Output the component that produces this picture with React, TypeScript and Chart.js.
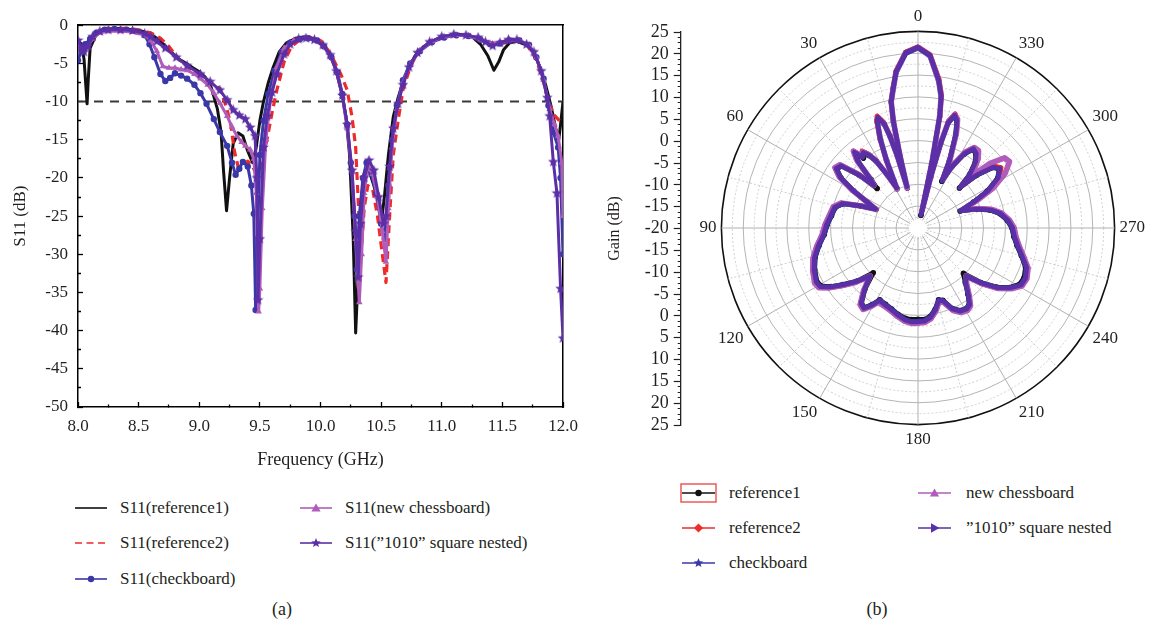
import React, { useEffect, useRef } from 'react';
import { Chart, registerables } from 'chart.js';

Chart.register(...registerables);

const FONT = "'Liberation Serif', 'Times New Roman', serif";
const TEXT = '#231f20';
const PURPLE = '#5b2fa6';
const BLUE = '#3a38a8';
const MAGENTA = '#b05cbb';
const RED = '#ee2a2a';
const BLACK = '#111111';

// ---------------- (a) S11 vs frequency ----------------
const freqRange = [8, 12];
const s11Range = [-50, 0];
const thresholdFreq = [8, 12];
const thresholdS11 = [-10, -10];

const ref1Freq = [8.00, 8.03, 8.05, 8.065, 8.075, 8.085, 8.10, 8.15, 8.20, 8.30, 8.40, 8.50, 8.55, 8.60, 8.65, 8.70, 8.75, 8.80, 8.85, 8.90, 8.95, 9.00, 9.05, 9.10, 9.15, 9.18, 9.20, 9.225, 9.25, 9.28, 9.32, 9.36, 9.40, 9.44, 9.47, 9.50, 9.53, 9.57, 9.61, 9.66, 9.72, 9.80, 9.87, 9.95, 10.02, 10.08, 10.13, 10.17, 10.21, 10.24, 10.27, 10.29, 10.31, 10.33, 10.36, 10.40, 10.44, 10.48, 10.51, 10.53, 10.56, 10.60, 10.64, 10.68, 10.72, 10.78, 10.85, 10.95, 11.05, 11.15, 11.25, 11.32, 11.38, 11.43, 11.47, 11.51, 11.56, 11.62, 11.70, 11.76, 11.81, 11.86, 11.90, 11.94, 11.965, 11.98, 12.00];
const ref1S11 = [-2.0, -2.5, -4.5, -8.0, -10.3, -7.0, -3.0, -1.2, -0.6, -0.4, -0.5, -0.7, -0.9, -1.2, -1.7, -2.4, -3.2, -4.0, -4.6, -5.1, -5.6, -6.1, -6.8, -8.2, -11.0, -14.0, -19.0, -24.3, -20.0, -15.5, -14.1, -14.5, -16.5, -18.0, -16.0, -12.5, -10.0, -7.5, -5.5, -3.5, -2.3, -1.7, -1.5, -1.8, -2.6, -3.8, -6.0, -8.5, -12.0, -17.0, -28.0, -40.3, -33.0, -24.0, -19.5, -19.0, -21.0, -23.5, -24.8, -22.0, -17.0, -12.0, -9.5, -7.5, -5.8, -4.0, -2.8, -1.9, -1.4, -1.2, -1.5, -2.5, -4.0, -5.9, -4.8, -3.2, -2.3, -2.1, -2.6, -3.6, -5.5, -8.0, -10.5, -13.5, -15.0, -13.0, -10.0];

const ref2Freq = [8.00, 8.05, 8.10, 8.15, 8.20, 8.30, 8.40, 8.50, 8.60, 8.68, 8.75, 8.84, 8.92, 9.00, 9.08, 9.17, 9.22, 9.26, 9.29, 9.32, 9.36, 9.40, 9.44, 9.47, 9.50, 9.53, 9.56, 9.60, 9.64, 9.70, 9.76, 9.84, 9.92, 10.00, 10.06, 10.11, 10.17, 10.22, 10.26, 10.29, 10.32, 10.34, 10.36, 10.39, 10.43, 10.47, 10.51, 10.54, 10.57, 10.60, 10.64, 10.68, 10.74, 10.80, 10.90, 11.00, 11.10, 11.20, 11.30, 11.40, 11.50, 11.60, 11.70, 11.78, 11.84, 11.88, 11.93, 11.97, 12.00];
const ref2S11 = [-2.5, -3.0, -2.0, -1.0, -0.6, -0.4, -0.4, -0.6, -1.0, -1.7, -2.8, -4.6, -5.6, -6.4, -7.4, -8.3, -10.5, -13.0, -16.5, -18.5, -18.5, -17.8, -18.5, -19.5, -19.0, -17.0, -14.9, -11.5, -8.5, -4.8, -2.8, -1.8, -1.6, -2.0, -3.2, -4.6, -6.5, -8.5, -12.0, -16.0, -26.0, -29.0, -24.0, -21.0, -21.5, -25.0, -30.0, -33.7, -25.0, -17.0, -12.5, -8.5, -5.5, -3.6, -2.2, -1.6, -1.2, -1.3, -1.7, -2.3, -2.4, -2.0, -2.5, -4.5, -7.5, -10.0, -11.8, -12.5, -13.0];

const checkFreq = [8.00, 8.03, 8.06, 8.10, 8.15, 8.22, 8.30, 8.40, 8.50, 8.55, 8.59, 8.63, 8.68, 8.72, 8.76, 8.80, 8.85, 8.90, 8.96, 9.01, 9.06, 9.12, 9.17, 9.23, 9.27, 9.30, 9.33, 9.36, 9.40, 9.43, 9.45, 9.465, 9.48, 9.50, 9.53, 9.57, 9.62, 9.68, 9.75, 9.83, 9.90, 9.97, 10.03, 10.09, 10.14, 10.18, 10.22, 10.25, 10.28, 10.30, 10.32, 10.35, 10.38, 10.42, 10.46, 10.50, 10.53, 10.56, 10.59, 10.63, 10.68, 10.74, 10.82, 10.92, 11.02, 11.12, 11.22, 11.32, 11.40, 11.48, 11.56, 11.64, 11.72, 11.78, 11.84, 11.88, 11.92, 11.96, 11.98, 12.00];
const checkS11 = [-4.6, -3.2, -2.5, -1.8, -1.0, -0.6, -0.5, -0.6, -0.9, -1.3, -2.5, -4.2, -6.4, -7.3, -6.9, -6.3, -6.6, -7.0, -7.8, -8.9, -10.3, -12.3, -14.0, -15.8, -18.0, -19.6, -18.8, -17.9, -18.5, -21.0, -24.7, -37.3, -28.0, -17.0, -12.5, -9.0, -6.0, -3.5, -2.3, -1.8, -1.7, -2.0, -2.8, -4.2, -6.2, -9.0, -13.0, -18.0, -25.0, -32.0, -25.0, -20.0, -18.0, -19.5, -22.0, -26.0, -28.0, -21.0, -15.0, -10.5, -7.2, -5.0, -3.4, -2.2, -1.6, -1.3, -1.4, -1.9, -2.5, -2.4, -2.0, -2.0, -2.6, -4.2, -7.0, -10.5, -14.0, -16.0, -20.0, -30.0];

const chessFreq = [8.00, 8.04, 8.08, 8.12, 8.18, 8.25, 8.35, 8.45, 8.55, 8.60, 8.65, 8.70, 8.75, 8.80, 8.85, 8.90, 8.96, 9.01, 9.07, 9.12, 9.17, 9.23, 9.27, 9.31, 9.35, 9.38, 9.42, 9.45, 9.47, 9.49, 9.50, 9.52, 9.55, 9.59, 9.64, 9.70, 9.78, 9.87, 9.95, 10.02, 10.08, 10.13, 10.18, 10.22, 10.26, 10.29, 10.32, 10.34, 10.36, 10.39, 10.43, 10.47, 10.51, 10.54, 10.56, 10.59, 10.63, 10.68, 10.74, 10.82, 10.92, 11.02, 11.12, 11.22, 11.32, 11.40, 11.48, 11.56, 11.64, 11.72, 11.78, 11.84, 11.89, 11.93, 11.96, 11.99, 12.00];
const chessS11 = [-2.8, -3.2, -2.8, -1.8, -1.0, -0.8, -0.8, -0.9, -1.3, -2.0, -3.4, -5.4, -5.6, -5.6, -5.8, -5.9, -6.4, -7.0, -7.8, -8.9, -10.2, -11.9, -13.3, -14.5, -15.3, -15.8, -16.3, -17.5, -22.0, -37.5, -34.5, -24.0, -15.0, -9.5, -5.5, -3.0, -2.0, -1.7, -1.9, -2.7, -4.0, -6.0, -9.3, -13.5, -19.0, -28.0, -36.3, -30.0, -22.0, -18.5, -19.5, -22.5, -27.0, -31.0, -24.0, -16.0, -11.0, -7.5, -5.2, -3.3, -2.1, -1.5, -1.3, -1.4, -1.9, -2.4, -2.3, -1.9, -2.0, -2.6, -4.2, -7.2, -11.0, -13.0, -14.5, -18.0, -25.0];

const nestFreq = [8.00, 8.03, 8.05, 8.08, 8.12, 8.18, 8.25, 8.35, 8.45, 8.55, 8.60, 8.65, 8.72, 8.81, 8.90, 9.01, 9.09, 9.17, 9.23, 9.28, 9.33, 9.38, 9.42, 9.46, 9.475, 9.485, 9.50, 9.53, 9.56, 9.60, 9.64, 9.70, 9.75, 9.82, 9.88, 9.95, 10.02, 10.08, 10.13, 10.18, 10.22, 10.26, 10.29, 10.31, 10.33, 10.36, 10.40, 10.44, 10.48, 10.52, 10.54, 10.57, 10.60, 10.64, 10.68, 10.73, 10.80, 10.90, 11.00, 11.10, 11.20, 11.30, 11.36, 11.42, 11.48, 11.55, 11.62, 11.70, 11.76, 11.82, 11.87, 11.89, 11.92, 11.95, 11.98, 12.00];
const nestS11 = [-2.0, -3.0, -3.5, -2.8, -1.5, -0.8, -0.6, -0.6, -0.7, -1.1, -1.5, -2.1, -3.0, -4.2, -5.3, -6.4, -7.4, -8.5, -9.8, -11.1, -11.8, -12.3, -13.4, -14.5, -20.0, -36.0, -28.0, -16.0, -11.9, -8.8, -6.4, -3.8, -2.5, -1.8, -1.7, -1.9, -2.6, -3.9, -6.0, -9.2, -13.0, -19.0, -27.0, -33.0, -26.0, -20.0, -17.7, -19.0, -22.5, -26.0, -25.0, -18.5, -13.5, -10.3, -7.8, -5.5, -3.6, -2.2, -1.5, -1.2, -1.3, -1.6, -2.2, -2.7, -2.3, -1.9, -1.9, -2.5, -3.5, -6.0, -9.5, -11.9, -17.9, -22.0, -34.5, -41.0];

// ---------------- (b) gain pattern ----------------
const gainRange = [-20, 25];
const gainAxisLabels = [25, 20, 15, 10, 5, 0, -5, -10, -15, -20, -15, -10, -5, 0, 5, 10, 15, 20, 25];
const polarAngles = [0, 4, 8, 10, 12, 13, 14, 15, 16, 17, 18, 20, 21, 23, 25, 27, 28, 30, 32, 34, 36, 38, 40, 42, 44, 46, 48, 51, 54, 57, 60, 63, 66, 69, 72, 76, 82, 88, 94, 100, 106, 112, 118, 121, 124, 127, 131, 135, 139, 143, 146, 149, 152, 157, 162, 167, 172, 176, 180, 184, 188, 192, 196, 199, 203, 207, 211, 214, 217, 221, 225, 229, 233, 237, 241, 245, 250, 255, 260, 265, 270, 275, 280, 284, 288, 292, 295, 298, 302, 306, 309, 312, 314, 316, 319, 322, 325, 328, 331, 333, 335, 338, 340, 342, 344, 345, 346, 347, 348, 349, 350, 352, 356];
const ref1Gain = [21.3, 20.2, 16, 12.5, 9.5, 5, -3, -10.5, -3, 2, 5, 6.8, 6, 2, -3, -8, -9.8, -6, -2, 0, 1.2, 0.3, 2.5, 0.5, -4.5, -7, -2, 2.5, 3, 1, -3, -7, -9.5, -6, -2, -0.5, 0, 0.8, 1.5, 3, 4.5, 5.5, 6.2, 5.8, 4, 1.5, -1.5, -5.5, -1.5, 1.5, 2, 0.5, -1.4, -1, -0.5, 0.3, 0.9, 1.0, 0.9, 1.0, 0.4, -1, -2.9, -2.5, 0, 1.2, 1.5, 1, -1, -3.5, -5.3, -1, 2.5, 5, 6.6, 6.8, 6.2, 4.5, 3, 2, 1.5, 0.5, -1, -3, -6, -9.6, -6, -2, 1.5, 3, 2, -2, -6.8, -3, 0, 1.5, 2, 0, -4, -8, -3, 3, 6, 7, 5, 0, -8, -17, -5, 6, 10.5, 14, 19.5];
const ref2Gain = [21.5, 20.4, 16.3, 12.8, 9.8, 5.5, -2.5, -10, -2.5, 2.5, 5.5, 7.3, 6.5, 2.5, -2.5, -7.5, -9.5, -5.5, -1.5, 0.5, 1.8, 0.8, 3, 1, -3.5, -6, -1.5, 3, 3.5, 1.5, -2.5, -6.5, -9, -5.5, -1.5, 0, 0.5, 1.3, 2, 3.5, 5, 6, 6.6, 6.2, 4.5, 2, -1, -4.5, -1, 2, 2.4, 1, -1, -0.6, 0, 0.8, 1.4, 1.6, 1.5, 1.5, 1, -0.5, -2.4, -2, 0.5, 1.6, 2, 1.5, -0.5, -3, -4.5, -0.5, 3, 5.5, 7.2, 7.4, 6.8, 5, 3.5, 2.5, 2, 1, -0.5, -2.5, -5.5, -9.2, -5.5, -1.5, 2, 3.5, 2.5, -1.5, -6.3, -2.5, 0.5, 2, 2.5, 0.5, -3.5, -7.5, -2.5, 3.5, 6.5, 7.5, 5.5, 0.5, -7.5, -16, -4.5, 6.5, 11, 14.5, 19.8];
const checkGain = [21.2, 20, 16, 12.5, 9.5, 5, -3, -10, -3, 2, 5, 6.8, 6, 2, -3, -8, -9.5, -6, -2, 0, 1.2, 0.5, 2.5, 0.5, -4, -6, -2, 2.5, 3, 1, -3, -7, -9.3, -6, -2, -0.5, 0, 0.8, 1.5, 3, 4.5, 5.5, 6.3, 6, 4, 1.5, -1.5, -4.5, -1.5, 1.5, 2, 0.5, -1.4, -1, -0.5, 0.3, 1.1, 1.4, 1.3, 1.2, 0.5, -1, -2.9, -2.5, 0, 1.2, 1.5, 1, -1, -3.5, -4.5, -1, 2.5, 5, 6.8, 7, 6.3, 4.5, 3, 2, 1.5, 0.5, -1, -3, -6, -9.6, -6, -2, 1.5, 3, 2, -2, -6.8, -3, 0, 1.5, 2, 0, -4, -8, -3, 3, 6, 7, 5, 0, -8, -17, -5, 6, 10.5, 14, 19.5];
const chessGain = [21.3, 20.2, 16, 12.5, 9.5, 5, -3, -10.5, -3, 2, 5, 6.8, 6, 2, -3, -8, -9.8, -6, -2, 0.3, 1.5, 0.8, 3, 1, -4, -6, -1.5, 3, 3.5, 1.5, -2.5, -7, -9.5, -6, -1.5, 0, 0.5, 1.3, 2, 3.5, 5, 6, 6.8, 6.5, 4.5, 2, -1, -4.5, -1, 2, 2.5, 1, -0.8, -0.5, 0, 0.8, 1.6, 1.9, 1.8, 1.7, 1, -0.5, -2.5, -2, 0.5, 1.7, 2, 1.5, -0.5, -3, -4.5, -0.5, 3, 5.5, 7.3, 7.5, 6.8, 5, 3.5, 2.5, 2, 1, -0.5, -2.5, -5.5, -9.3, -5, -0.5, 3.5, 5.9, 5.5, 2, -3, -1.5, 1, 2.5, 2.5, 0.5, -3.5, -7.5, -2.5, 3.5, 6.5, 7.2, 5.3, 0.3, -7.5, -16, -4.5, 6, 10.5, 14, 19.5];
const nestGain = [21.4, 20.3, 16.2, 12.7, 9.6, 5.2, -2.8, -10.2, -2.8, 2.2, 5.2, 7, 6.2, 2.2, -2.8, -7.8, -9.6, -5.8, -1.8, 0.2, 1.4, 0.6, 2.7, 0.7, -4, -6, -1.8, 2.7, 3.2, 1.2, -2.8, -6.8, -9.4, -5.8, -1.8, -0.3, 0.2, 1, 1.7, 3.2, 4.7, 5.7, 6.4, 6.1, 4.2, 1.7, -1.3, -4.5, -1.3, 1.7, 2.2, 0.7, -1.2, -0.8, -0.3, 0.5, 1.3, 1.6, 1.5, 1.4, 0.7, -0.8, -2.7, -2.3, 0.2, 1.4, 1.7, 1.2, -0.8, -3.3, -4.5, -0.8, 2.7, 5.2, 7, 7.2, 6.5, 4.7, 3.2, 2.2, 1.7, 0.7, -0.8, -2.8, -5.8, -9.4, -5.8, -1.8, 1.7, 3.2, 2.2, -1.8, -6.6, -2.8, 0.2, 1.7, 2.2, 0.2, -3.8, -7.8, -2.8, 3.2, 6.2, 7.2, 5.2, 0.2, -7.8, -16.8, -4.8, 6.2, 10.7, 14.2, 19.7];

// ---------------- helpers ----------------
function pts(xs: number[], ys: number[]) {
  return xs.map((x, i) => ({ x, y: ys[i] }));
}
function onGrid(v: number, step: number) {
  return Math.abs(v / step - Math.round(v / step)) < 1e-6;
}
function toRadar(angles: number[], gains: number[]) {
  const out: (number | null)[] = new Array(360).fill(null);
  angles.forEach((a, k) => {
    out[(360 - a) % 360] = gains[k];
  });
  return out;
}
function starPath(cx: number, cy: number, R: number, r: number) {
  const p: string[] = [];
  for (let k = 0; k < 10; k++) {
    const a = -Math.PI / 2 + (k * Math.PI) / 5;
    const rad = k % 2 === 0 ? R : r;
    p.push(`${(cx + rad * Math.cos(a)).toFixed(2)},${(cy + rad * Math.sin(a)).toFixed(2)}`);
  }
  return p.join(' ');
}
function makeStar(color: string, size: number) {
  const c = document.createElement('canvas');
  c.width = size;
  c.height = size;
  const g = c.getContext('2d')!;
  g.fillStyle = color;
  g.beginPath();
  const R = size / 2;
  for (let k = 0; k < 10; k++) {
    const a = -Math.PI / 2 + (k * Math.PI) / 5;
    const rad = k % 2 === 0 ? R : R * 0.45;
    g.lineTo(R + rad * Math.cos(a), R + rad * Math.sin(a));
  }
  g.closePath();
  g.fill();
  return c;
}

const tickFont = { family: FONT, size: 17 };

const centerHole = {
  id: 'centerHole',
  beforeDatasetsDraw(chart: any) {
    const s = chart.scales.r;
    const ctx = chart.ctx;
    ctx.save();
    ctx.fillStyle = '#ffffff';
    ctx.beginPath();
    ctx.arc(s.xCenter, s.yCenter, 9, 0, Math.PI * 2);
    ctx.fill();
    ctx.restore();
  },
};

// ---------------- legend ----------------
type MarkerKind = 'none' | 'circle' | 'triangle' | 'rtriangle' | 'diamond' | 'star';
interface LegendEntry {
  label: string;
  color: string;
  dashed?: boolean;
  marker: MarkerKind;
  boxed?: boolean;
}

const legendA: LegendEntry[][] = [
  [
    { label: 'S11(reference1)', color: BLACK, marker: 'none' },
    { label: 'S11(reference2)', color: RED, dashed: true, marker: 'none' },
    { label: 'S11(checkboard)', color: BLUE, marker: 'circle' },
  ],
  [
    { label: 'S11(new chessboard)', color: MAGENTA, marker: 'triangle' },
    { label: 'S11(\u201d1010\u201d square nested)', color: PURPLE, marker: 'star' },
  ],
];
const legendB: LegendEntry[][] = [
  [
    { label: 'reference1', color: BLACK, marker: 'circle', boxed: true },
    { label: 'reference2', color: RED, marker: 'diamond' },
    { label: 'checkboard', color: BLUE, marker: 'star' },
  ],
  [
    { label: 'new chessboard', color: MAGENTA, marker: 'triangle' },
    { label: '\u201d1010\u201d square nested', color: PURPLE, marker: 'rtriangle' },
  ],
];

function MarkerSvg({ kind, cx, cy, color }: { kind: MarkerKind; cx: number; cy: number; color: string }) {
  if (kind === 'circle') return <circle cx={cx} cy={cy} r={3.2} fill={color} />;
  if (kind === 'triangle')
    return <polygon points={`${cx},${cy - 4.5} ${cx + 4.6},${cy + 3.5} ${cx - 4.6},${cy + 3.5}`} fill={color} />;
  if (kind === 'rtriangle')
    return <polygon points={`${cx + 5},${cy} ${cx - 3.5},${cy - 4.8} ${cx - 3.5},${cy + 4.8}`} fill={color} />;
  if (kind === 'diamond')
    return <polygon points={`${cx},${cy - 4.6} ${cx + 4.6},${cy} ${cx},${cy + 4.6} ${cx - 4.6},${cy}`} fill={color} />;
  if (kind === 'star') return <polygon points={starPath(cx, cy, 5, 2.2)} fill={color} />;
  return null;
}

function Legend({
  columns,
  iconX,
  textX,
  rowY,
  iconW,
}: {
  columns: LegendEntry[][];
  iconX: number[];
  textX: number[];
  rowY: number[];
  iconW: number;
}) {
  const items: any[] = [];
  columns.forEach((col, c) => {
    col.forEach((e, r) => {
      const y = rowY[r];
      items.push(
        <svg
          key={`i${c}-${r}`}
          width={iconW + 4}
          height={22}
          style={{ position: 'absolute', left: iconX[c] - 2, top: y - 11, overflow: 'visible' }}
        >
          <line
            x1={2}
            y1={11}
            x2={iconW + 2}
            y2={11}
            stroke={e.color}
            strokeWidth={1.6}
            strokeDasharray={e.dashed ? '7 4.5' : undefined}
          />
          <MarkerSvg kind={e.marker} cx={iconW / 2 + 2} cy={11} color={e.color} />
          {e.boxed ? (
            <rect x={1} y={2} width={iconW + 2} height={18} fill="none" stroke="#e8504a" strokeWidth={1.4} />
          ) : null}
        </svg>
      );
      items.push(
        <div
          key={`t${c}-${r}`}
          style={{
            position: 'absolute',
            left: textX[c],
            top: y - 11,
            fontSize: 17,
            lineHeight: '22px',
            whiteSpace: 'nowrap',
            color: TEXT,
          }}
        >
          {e.label}
        </div>
      );
    });
  });
  return <>{items}</>;
}

export default function App() {
  const leftRef = useRef<HTMLCanvasElement>(null);
  const gainRef = useRef<HTMLCanvasElement>(null);
  const polarRef = useRef<HTMLCanvasElement>(null);

  useEffect(() => {
    const charts: any[] = [];
    const starSmall = makeStar(PURPLE, 11);

    // ---------- (a) ----------
    const lineCommon = { tension: 0, borderJoinStyle: 'round' as const, fill: false };
    charts.push(
      new Chart(leftRef.current!, {
        type: 'line',
        data: {
          datasets: [
            {
              ...lineCommon,
              label: 'S11("1010" square nested)',
              data: pts(nestFreq, nestS11),
              borderColor: PURPLE,
              backgroundColor: PURPLE,
              borderWidth: 3,
              pointStyle: starSmall as any,
              pointRadius: 4,
              order: 0,
            },
            {
              ...lineCommon,
              label: 'S11(new chessboard)',
              data: pts(chessFreq, chessS11),
              borderColor: MAGENTA,
              backgroundColor: MAGENTA,
              borderWidth: 3,
              pointStyle: 'triangle',
              pointRadius: 3.8,
              pointBorderWidth: 0,
              order: 1,
            },
            {
              ...lineCommon,
              label: 'S11(checkboard)',
              data: pts(checkFreq, checkS11),
              borderColor: BLUE,
              backgroundColor: BLUE,
              borderWidth: 3,
              pointStyle: 'circle',
              pointRadius: 3.2,
              pointBorderWidth: 0,
              order: 2,
            },
            {
              ...lineCommon,
              label: 'S11(reference2)',
              data: pts(ref2Freq, ref2S11),
              borderColor: RED,
              borderWidth: 3.2,
              borderDash: [8, 5],
              pointRadius: 0,
              order: 3,
            },
            {
              ...lineCommon,
              label: 'S11(reference1)',
              data: pts(ref1Freq, ref1S11),
              borderColor: BLACK,
              borderWidth: 3,
              pointRadius: 0,
              order: 4,
            },
            {
              ...lineCommon,
              label: 'threshold',
              data: pts(thresholdFreq, thresholdS11),
              borderColor: '#3a3a3a',
              borderWidth: 2,
              borderDash: [9, 7],
              pointRadius: 0,
              order: 5,
            },
          ],
        },
        options: {
          animation: false,
          responsive: false,
          events: [],
          layout: { padding: { top: 17, right: 37, left: 0, bottom: 0 } },
          plugins: { legend: { display: false }, tooltip: { enabled: false } },
          scales: {
            x: {
              type: 'linear',
              position: 'bottom',
              min: freqRange[0],
              max: freqRange[1],
              afterFit: (s: any) => {
                s.height = 75;
              },
              ticks: {
                stepSize: 0.25,
                autoSkip: false,
                maxRotation: 0,
                padding: 14,
                color: TEXT,
                font: tickFont,
                callback: (v: any) => (onGrid(Number(v), 0.5) ? Number(v).toFixed(1) : ''),
              },
              grid: {
                drawOnChartArea: false,
                tickLength: -5,
                tickColor: '#000',
                tickWidth: 1.3,
                tickBorderDash: (ctx: any) => (ctx.tick && onGrid(ctx.tick.value, 0.5) ? [] : [3, 100]),
              },
              border: { color: '#000', width: 1.5 },
              title: {
                display: true,
                text: 'Frequency (GHz)',
                color: TEXT,
                font: { family: FONT, size: 18 },
                padding: { top: 0, bottom: 11 },
              },
            },
            y: {
              type: 'linear',
              position: 'left',
              min: s11Range[0],
              max: s11Range[1],
              afterFit: (s: any) => {
                s.width = 78;
              },
              ticks: {
                stepSize: 2.5,
                autoSkip: false,
                padding: 15,
                color: TEXT,
                font: tickFont,
                callback: (v: any) => (onGrid(Number(v), 5) ? String(v) : ''),
              },
              grid: {
                drawOnChartArea: false,
                tickLength: -5,
                tickColor: '#000',
                tickWidth: 1.3,
                tickBorderDash: (ctx: any) => (ctx.tick && onGrid(ctx.tick.value, 5) ? [] : [0, 2, 3, 100]),
              },
              border: { color: '#000', width: 1.5 },
              title: {
                display: true,
                text: 'S11 (dB)',
                color: TEXT,
                font: { family: FONT, size: 17 },
                padding: { top: 10, bottom: 0 },
              },
            },
            x2: {
              type: 'linear',
              position: 'top',
              min: freqRange[0],
              max: freqRange[1],
              ticks: { display: false },
              grid: { display: false, drawTicks: false },
              border: { display: true, color: '#000', width: 1.5 },
            },
            y2: {
              type: 'linear',
              position: 'right',
              min: s11Range[0],
              max: s11Range[1],
              ticks: { display: false },
              grid: { display: false, drawTicks: false },
              border: { display: true, color: '#000', width: 1.5 },
            },
          },
        } as any,
      })
    );

    // ---------- (b) radial axis ----------
    charts.push(
      new Chart(gainRef.current!, {
        type: 'line',
        data: { datasets: [] },
        options: {
          animation: false,
          responsive: false,
          events: [],
          layout: { padding: { top: 32, bottom: 35, left: 0, right: 0 } },
          plugins: { legend: { display: false }, tooltip: { enabled: false } },
          scales: {
            x: { display: false },
            y: {
              type: 'linear',
              position: 'left',
              min: -45,
              max: 45,
              afterFit: (s: any) => {
                s.width = 80.7;
              },
              ticks: {
                stepSize: 1.25,
                autoSkip: false,
                padding: 5,
                color: TEXT,
                font: { family: FONT, size: 18 },
                callback: (v: any) =>
                  onGrid(Number(v), 5) ? String(gainAxisLabels[Math.round((Number(v) + 45) / 5)]) : '',
              },
              grid: {
                drawOnChartArea: false,
                tickLength: 7,
                tickColor: '#222',
                tickWidth: 1.2,
                tickBorderDash: (ctx: any) => (ctx.tick && onGrid(ctx.tick.value, 5) ? [] : [0, 4, 3, 100]),
              },
              border: { color: '#222', width: 1.3 },
              title: {
                display: true,
                text: 'Gain (dB)',
                color: TEXT,
                font: { family: FONT, size: 16 },
                padding: { top: 5, bottom: 0 },
              },
            },
          },
        } as any,
      })
    );

    // ---------- (b) polar ----------
    const polarLabels = Array.from({ length: 360 }, (_, i) => String((360 - i) % 360));
    const radarCommon = { spanGaps: true, fill: false, tension: 0, borderJoinStyle: 'round' as const, pointBorderWidth: 0 };
    charts.push(
      new Chart(polarRef.current!, {
        type: 'radar',
        data: {
          labels: polarLabels,
          datasets: [
            {
              ...radarCommon,
              label: '"1010" square nested',
              data: toRadar(polarAngles, nestGain),
              borderColor: PURPLE,
              backgroundColor: PURPLE,
              borderWidth: 4.4,
              pointStyle: 'triangle',
              pointRotation: 90,
              pointRadius: 2.2,
              order: 0,
            },
            {
              ...radarCommon,
              label: 'checkboard',
              data: toRadar(polarAngles, checkGain),
              borderColor: BLUE,
              backgroundColor: BLUE,
              borderWidth: 4.4,
              pointStyle: 'star',
              pointRadius: 2.2,
              order: 1,
            },
            {
              ...radarCommon,
              label: 'new chessboard',
              data: toRadar(polarAngles, chessGain),
              borderColor: MAGENTA,
              backgroundColor: MAGENTA,
              borderWidth: 5.6,
              pointStyle: 'triangle',
              pointRadius: 2.4,
              order: 2,
            },
            {
              ...radarCommon,
              label: 'reference2',
              data: toRadar(polarAngles, ref2Gain),
              borderColor: RED,
              backgroundColor: RED,
              borderWidth: 4.8,
              pointStyle: 'rectRot',
              pointRadius: 2.4,
              order: 3,
            },
            {
              ...radarCommon,
              label: 'reference1',
              data: toRadar(polarAngles, ref1Gain),
              borderColor: BLACK,
              backgroundColor: BLACK,
              borderWidth: 4.8,
              pointStyle: 'circle',
              pointRadius: 2.8,
              order: 4,
            },
          ],
        },
        plugins: [centerHole],
        options: {
          animation: false,
          responsive: false,
          events: [],
          layout: { padding: 0 },
          plugins: { legend: { display: false }, tooltip: { enabled: false } },
          scales: {
            r: {
              min: gainRange[0],
              max: gainRange[1],
              startAngle: 0,
              ticks: { display: false, stepSize: 2.5 },
              grid: {
                circular: true,
                color: (ctx: any) =>
                  ctx.tick && ctx.tick.value >= gainRange[1]
                    ? '#111'
                    : ctx.tick && onGrid(ctx.tick.value, 5)
                    ? '#b4b4b4'
                    : '#cfcfcf',
                lineWidth: (ctx: any) => (ctx.tick && ctx.tick.value >= gainRange[1] ? 1.6 : 1),
              },
              border: {
                dash: (ctx: any) => (ctx.tick && !onGrid(ctx.tick.value, 5) ? [2, 2] : []),
              },
              angleLines: {
                display: true,
                color: (ctx: any) => (ctx.index % 30 === 0 ? '#b0b0b0' : '#cdcdcd'),
                lineWidth: (ctx: any) => (ctx.index % 15 === 0 ? 1 : 0),
                borderDash: (ctx: any) => (ctx.index % 30 === 0 ? [] : [2, 2]),
              },
              pointLabels: {
                display: true,
                padding: 5,
                color: TEXT,
                font: { family: FONT, size: 17 },
                callback: (label: any, index: number) => (index % 30 === 0 ? label : ''),
              },
            },
          },
        } as any,
      })
    );

    return () => charts.forEach((c) => c.destroy());
  }, []);

  return (
    <div
      style={{
        position: 'fixed',
        left: 0,
        top: 0,
        width: 1156,
        height: 626,
        background: '#fff',
        overflow: 'hidden',
        fontFamily: FONT,
        color: TEXT,
      }}
    >
      <canvas
        ref={leftRef}
        width={600}
        height={482}
        style={{ position: 'absolute', left: 0, top: 0, width: 600, height: 482 }}
      />
      <canvas
        ref={gainRef}
        width={95}
        height={460}
        style={{ position: 'absolute', left: 600, top: 0, width: 95, height: 460 }}
      />
      <canvas
        ref={polarRef}
        width={510}
        height={444}
        style={{ position: 'absolute', left: 663, top: 6, width: 510, height: 444 }}
      />
      <Legend columns={legendA} iconX={[75, 300]} textX={[120, 345]} rowY={[508, 543, 579]} iconW={32} />
      <Legend columns={legendB} iconX={[682, 918]} textX={[729, 966]} rowY={[493, 528, 563]} iconW={33} />
      <div style={{ position: 'absolute', left: 262, top: 598, width: 40, textAlign: 'center', fontSize: 18, lineHeight: '22px' }}>
        (a)
      </div>
      <div style={{ position: 'absolute', left: 857, top: 598, width: 40, textAlign: 'center', fontSize: 18, lineHeight: '22px' }}>
        (b)
      </div>
    </div>
  );
}
